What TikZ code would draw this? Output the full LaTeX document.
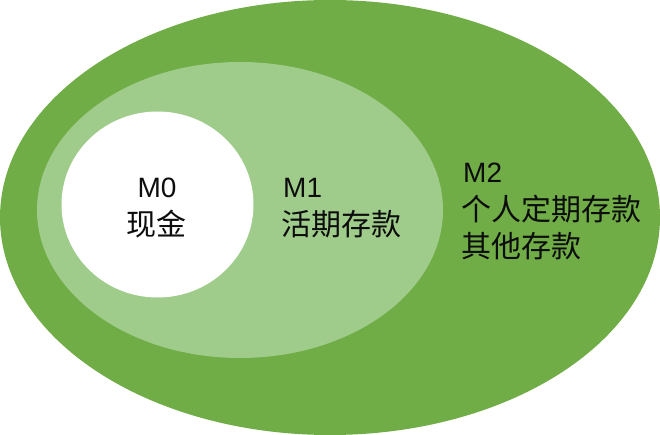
\documentclass[tikz,border=0pt]{standalone}
\usepackage{fontspec}
\setmainfont{Liberation Sans}
\newfontfamily\cjk{Noto Sans CJK SC}
\definecolor{darkgreen}{HTML}{70AD47}
\definecolor{lightgreen}{HTML}{9FCC8A}
\definecolor{txt}{HTML}{0D0D0D}
\begin{document}
\begin{tikzpicture}[x=1pt,y=-1pt,
  region/.style={draw=none},
  lbl/.style={inner sep=0pt,text=txt,font=\fontsize{28}{37}\selectfont},
  lblc/.style={inner sep=0pt,text=txt,font=\cjk\fontsize{30}{37}\selectfont}]
\useasboundingbox (0,0) rectangle (660,435);
\fill[region,darkgreen] (330,217.5) ellipse [x radius=330, y radius=217.5];
\fill[region,lightgreen] (240,210) ellipse [x radius=203, y radius=148];
\fill[region,white] (157.5,204.5) ellipse [x radius=96, y radius=93];
\node[lbl,anchor=base] (m0) at (157,198) {M0};
\node[lblc,anchor=base] (m0b) at (156,236) {现金};
\node[lbl,anchor=base west] (m1) at (283,198) {M1};
\node[lblc,anchor=base west] (m1b) at (281,236) {活期存款};
\node[lbl,anchor=base west] (m2) at (463,183) {M2};
\node[lblc,anchor=base west] (m2b) at (461,221) {个人定期存款};
\node[lblc,anchor=base west] (m2c) at (461,258) {其他存款};
\end{tikzpicture}
\end{document}
